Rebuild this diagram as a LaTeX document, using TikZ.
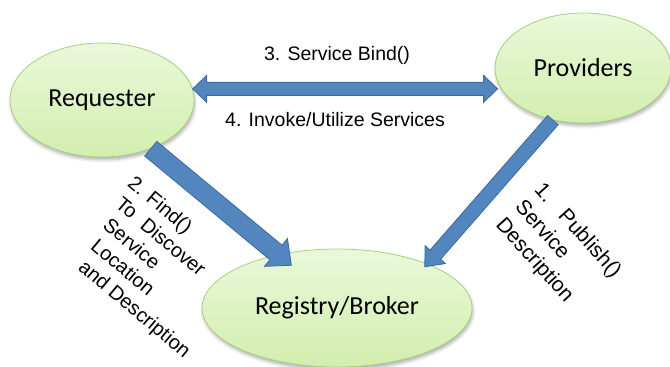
\documentclass[tikz,border=0pt]{standalone}
\usepackage{fontspec}
\setmainfont{Liberation Sans}
\newfontfamily\calibri{Carlito}
\usetikzlibrary{calc,shapes.geometric,shadows.blur}

\definecolor{roletop}{HTML}{EAF8DA}
\definecolor{rolebot}{HTML}{D2EEAE}
\definecolor{roleline}{HTML}{A9CF82}
\definecolor{pipefill}{HTML}{5386BF}
\definecolor{pipeline}{HTML}{3D6B9F}

\tikzset{
  role/.style={ellipse, draw=roleline, line width=0.8pt,
    top color=roletop, bottom color=rolebot, inner sep=0pt,
    font=\calibri\fontsize{26}{30}\selectfont,
    blur shadow={shadow xshift=1pt, shadow yshift=-3pt,
      shadow blur radius=3pt, shadow opacity=30}},
  pipe/.style={fill=pipefill, draw=pipeline, line width=0.8pt, line join=miter},
  steplabel/.style={font=\fontsize{19.5}{23}\selectfont, inner sep=0pt},
  sidelabel/.style={font=\fontsize{21}{26}\selectfont, inner sep=0pt,
    anchor=north west, align=left}
}

% block arrow: tail, tip, half shaft, half head, head length
\newcommand\pipearrow[5]{%
  \coordinate (neck) at ($(#2)!#5!(#1)$);
  \draw[pipe] ($(#1)!#3!90:(#2)$) -- ($(neck)!#3!-90:(#1)$)
    -- ($(neck)!#4!-90:(#1)$) -- (#2) -- ($(neck)!#4!90:(#1)$)
    -- ($(neck)!#3!90:(#1)$) -- ($(#1)!#3!-90:(#2)$) -- cycle;}
% same, with a head at both ends
\newcommand\pipedouble[5]{%
  \coordinate (neckA) at ($(#1)!#5!(#2)$);
  \coordinate (neckB) at ($(#2)!#5!(#1)$);
  \draw[pipe] (#1) -- ($(neckA)!#4!90:(#2)$) -- ($(neckA)!#3!90:(#2)$)
    -- ($(neckB)!#3!-90:(#1)$) -- ($(neckB)!#4!-90:(#1)$) -- (#2)
    -- ($(neckB)!#4!90:(#1)$) -- ($(neckB)!#3!90:(#1)$)
    -- ($(neckA)!#3!-90:(#2)$) -- ($(neckA)!#4!-90:(#2)$) -- cycle;}

\begin{document}
\begin{tikzpicture}[x=1pt,y=1pt]
\useasboundingbox (0,0) rectangle (670,367);

% the three roles
\node[role, minimum width=184, minimum height=114] (req) at (102,267) {Requester};
\node[role, minimum width=176, minimum height=110] (prov) at (583,299) {Providers};
\node[role, minimum width=270, minimum height=118] (reg) at (337,59) {Registry/Broker};

% arrow ends
\coordinate (bindL) at (req.7);
\coordinate (bindR) at ($(bindL -| prov.west)+(3,0)$);
\coordinate (findTail) at (req.-45);
\coordinate (findTip) at ([shift={(12,-11)}]reg.137);
\coordinate (pubTail) at (prov.-120);
\coordinate (pubTip) at ([shift={(-5,-2)}]reg.25);

\pipedouble{bindL}{bindR}{6.5pt}{13.5pt}{14pt}
\pipearrow{findTail}{findTip}{9.5pt}{18pt}{20pt}
\pipearrow{pubTail}{pubTip}{7pt}{13.5pt}{16pt}

% step labels
\node[steplabel] (bind) at (337,312) {3. Service Bind()};
\node[steplabel] (invoke) at (335,247) {4. Invoke/Utilize Services};
\node[sidelabel, rotate=-40, font=\fontsize{20}{24}\selectfont] (find) at (136,193)
  {2. Find()\\\hspace*{4pt}To\ \ Discover\\\hspace*{8pt}Service\\
   \hspace*{12pt}Location\\\hspace*{16pt}and Description};
\node[sidelabel, rotate=-48] (publish) at (545,187)
  {1.\hspace{18pt}Publish()\\Service\\Description};

\end{tikzpicture}
\end{document}
